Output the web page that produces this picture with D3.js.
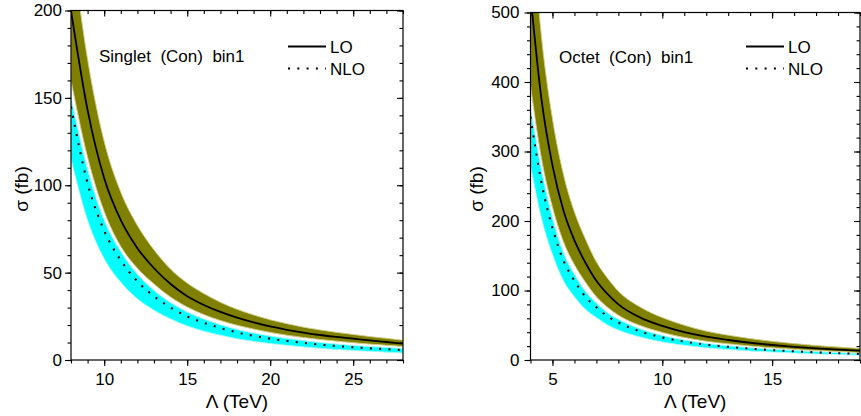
<!DOCTYPE html>
<html>
<head>
<meta charset="utf-8">
<script src="https://cdn.jsdelivr.net/npm/d3@7"></script>
<style>
  html, body { margin: 0; padding: 0; background: #fff; }
  svg { display: block; font-family: "Liberation Sans", Arial, sans-serif; }
  text { white-space: pre; }
</style>
</head>
<body>
<svg id="chart" width="861" height="416"></svg>
<script>
// ---------------- Data ----------------
// Singlet (Con) bin1
const singletLambda = [8, 9, 10, 11, 12, 13, 14, 15, 16, 17, 18, 19, 20, 21, 22, 23, 24, 25, 26, 27, 28];
const singletLO     = [200, 143, 104, 80, 64, 52.5, 43.5, 36.5, 31.5, 27.5, 24.2, 21.5, 19.2, 17.3, 15.7, 14.3, 13.2, 12.2, 11.2, 10.3, 9.4];
const singletLOUp   = [240, 172, 125, 96, 77, 63, 52, 44, 38, 33, 29, 25.8, 23, 20.8, 18.8, 17.2, 15.8, 14.6, 13.4, 12.4, 11.3];
const singletLOLow  = [160, 116, 85, 65, 52.5, 43.5, 36, 30.3, 26, 22.6, 19.9, 17.7, 15.8, 14.2, 12.9, 11.7, 10.8, 9.9, 9.1, 8.4, 7.7];
const singletNLO    = [145, 101, 74, 57, 45, 36.5, 30, 25, 21.3, 18.3, 15.8, 13.8, 12.2, 10.9, 9.8, 8.8, 8.0, 7.3, 6.7, 6.2, 5.7];
const singletNLOUp  = [150, 109, 80, 62, 49, 39.8, 32.8, 27.4, 23.4, 20.2, 17.5, 15.4, 13.7, 12.3, 11.1, 10.0, 9.1, 8.3, 7.7, 7.1, 6.6];
const singletNLOLow = [115, 80, 58, 44.5, 35, 28.5, 23.5, 19.5, 16.5, 14.2, 12.2, 10.7, 9.4, 8.4, 7.5, 6.7, 6.0, 5.5, 5.0, 4.5, 4.0];

// Octet (Con) bin1
const octetLambda = [4, 4.5, 5, 5.5, 6, 6.5, 7, 7.5, 8, 9, 10, 11, 12, 13, 14, 15, 16, 17, 18, 19];
const octetLO     = [525, 375, 280, 215, 172, 140, 114, 95, 80, 61, 49, 40, 33.5, 28.8, 24.8, 21.6, 19, 16.8, 15, 13.4];
const octetLOUp   = [650, 465, 347, 267, 213, 174, 141, 118, 99, 76, 61, 50, 41.5, 35.7, 30.8, 26.8, 23.6, 20.8, 18.6, 16.6];
const octetLOLow  = [395, 290, 220, 170, 137, 112, 91, 76, 64.5, 49.5, 39.7, 32.4, 27.1, 23.3, 20.1, 17.5, 15.4, 13.6, 12.2, 10.9];
const octetNLO    = [350, 255, 190, 143, 114, 91, 76, 63, 54, 41, 32.5, 26.5, 22, 19, 16.3, 14.2, 12.5, 11, 9.8, 8.8];
const octetNLOUp  = [362, 273, 204, 154, 123, 98.5, 82, 68, 58.5, 44.5, 35.2, 28.7, 23.8, 20.5, 17.6, 15.4, 13.5, 11.9, 10.6, 9.5];
const octetNLOLow = [280, 204, 152, 114, 91, 73, 61, 50.5, 43, 33, 26, 21.2, 17.6, 15.2, 13, 11.4, 10, 8.8, 7.8, 7.0];

// Axis ticks
const singletXMajor = [10, 15, 20, 25];
const singletXMinor = d3.range(8, 28.01, 1);
const singletYMajor = [0, 50, 100, 150, 200];
const singletYMinor = d3.range(0, 200.01, 10);
const octetXMajor = [5, 10, 15];
const octetXMinor = d3.range(4, 19.01, 1);
const octetYMajor = [0, 100, 200, 300, 400, 500];
const octetYMinor = d3.range(0, 500.01, 20);

const legendLabels = ["LO", "NLO"];
const xTitle = "Λ (TeV)";
const yTitle = "σ (fb)";

// ---------------- Drawing ----------------
const svg = d3.select("#chart");
const FONT = 17;
const OLIVE = "#808000", OLIVE_EDGE = "#d2cc8a";
const CYAN = "#00ffff", CYAN_EDGE = "#aef7f7";

const panels = [
  {
    id: "s", label: "Singlet  (Con)  bin1",
    xDomain: [8, 28], xRange: [71, 403], yDomain: [0, 200], yRange: [360, 10.5],
    lam: singletLambda, lo: singletLO, loUp: singletLOUp, loLow: singletLOLow,
    nlo: singletNLO, nloUp: singletNLOUp, nloLow: singletNLOLow,
    xMajor: singletXMajor, xMinor: singletXMinor, yMajor: singletYMajor, yMinor: singletYMinor,
    yPad: 3, labelPos: [99, 62], legendX: 288, yTitleX: 22
  },
  {
    id: "o", label: "Octet  (Con)  bin1",
    xDomain: [4, 19], xRange: [530.5, 860], yDomain: [0, 500], yRange: [360, 12.5],
    lam: octetLambda, lo: octetLO, loUp: octetLOUp, loLow: octetLOLow,
    nlo: octetNLO, nloUp: octetNLOUp, nloLow: octetNLOLow,
    xMajor: octetXMajor, xMinor: octetXMinor, yMajor: octetYMajor, yMinor: octetYMinor,
    yPad: 5, labelPos: [559, 63], legendX: 746, yTitleX: 477
  }
];

panels.forEach(p => {
  const x = d3.scaleLinear().domain(p.xDomain).range(p.xRange);
  const y = d3.scaleLinear().domain(p.yDomain).range(p.yRange);
  const [x0, x1] = p.xRange;
  const [yb, yt] = p.yRange;

  const clipId = "clip-" + p.id;
  svg.append("clipPath").attr("id", clipId)
    .append("rect").attr("x", x0).attr("y", yt).attr("width", x1 - x0).attr("height", yb - yt);

  const g = svg.append("g").attr("clip-path", `url(#${clipId})`);
  const idx = d3.range(p.lam.length);

  const area = (lowArr, upArr) => d3.area()
    .x(i => x(p.lam[i])).y0(i => y(lowArr[i])).y1(i => y(upArr[i]))
    .curve(d3.curveMonotoneX)(idx);
  const line = arr => d3.line()
    .x(i => x(p.lam[i])).y(i => y(arr[i]))
    .curve(d3.curveMonotoneX)(idx);

  // NLO band
  g.append("path").attr("d", area(p.nloLow, p.nloUp))
    .attr("fill", CYAN).attr("stroke", CYAN_EDGE).attr("stroke-width", 0.9);
  // LO band
  g.append("path").attr("d", area(p.loLow, p.loUp))
    .attr("fill", OLIVE).attr("stroke", OLIVE_EDGE).attr("stroke-width", 0.9);
  // LO central
  g.append("path").attr("d", line(p.lo))
    .attr("fill", "none").attr("stroke", "#000").attr("stroke-width", 1.8);
  // NLO central (dotted)
  g.append("path").attr("d", line(p.nlo))
    .attr("fill", "none").attr("stroke", "#000").attr("stroke-width", 2.1)
    .attr("stroke-dasharray", "2,7.3");

  // Axes
  const axG = svg.append("g");
  const styleAxis = sel => {
    sel.select(".domain").remove();
    sel.selectAll(".tick line").attr("stroke", "#000").attr("stroke-width", 1.1);
    sel.selectAll(".tick text").attr("font-size", FONT).attr("fill", "#000")
      .attr("font-family", "'Liberation Sans', Arial, sans-serif");
  };
  // bottom (outward)
  axG.append("g").attr("transform", `translate(0,${yb})`)
    .call(d3.axisBottom(x).tickValues(p.xMinor).tickSize(3.5).tickFormat("")).call(styleAxis);
  axG.append("g").attr("transform", `translate(0,${yb})`)
    .call(d3.axisBottom(x).tickValues(p.xMajor).tickSize(6).tickPadding(7).tickFormat(d3.format("d")))
    .call(styleAxis);
  // top (inward)
  axG.append("g").attr("transform", `translate(0,${yt})`)
    .call(d3.axisBottom(x).tickValues(p.xMinor).tickSize(3.5).tickFormat("")).call(styleAxis);
  axG.append("g").attr("transform", `translate(0,${yt})`)
    .call(d3.axisBottom(x).tickValues(p.xMajor).tickSize(6).tickFormat("")).call(styleAxis);
  // left (outward)
  axG.append("g").attr("transform", `translate(${x0},0)`)
    .call(d3.axisLeft(y).tickValues(p.yMinor).tickSize(3.5).tickFormat("")).call(styleAxis);
  axG.append("g").attr("transform", `translate(${x0},0)`)
    .call(d3.axisLeft(y).tickValues(p.yMajor).tickSize(6).tickPadding(p.yPad).tickFormat(d3.format("d")))
    .call(styleAxis);
  // right (inward)
  axG.append("g").attr("transform", `translate(${x1},0)`)
    .call(d3.axisLeft(y).tickValues(p.yMinor).tickSize(3.5).tickFormat("")).call(styleAxis);
  axG.append("g").attr("transform", `translate(${x1},0)`)
    .call(d3.axisLeft(y).tickValues(p.yMajor).tickSize(6).tickFormat("")).call(styleAxis);

  // frame
  svg.append("rect").attr("x", x0).attr("y", yt).attr("width", x1 - x0).attr("height", yb - yt)
    .attr("fill", "none").attr("stroke", "#000").attr("stroke-width", 1.2);

  // panel label
  svg.append("text").attr("x", p.labelPos[0]).attr("y", p.labelPos[1])
    .attr("font-size", FONT).text(p.label);

  // legend
  const lx = p.legendX;
  svg.append("line").attr("x1", lx).attr("x2", lx + 38).attr("y1", 46.5).attr("y2", 46.5)
    .attr("stroke", "#000").attr("stroke-width", 1.8);
  svg.append("text").attr("x", lx + 42).attr("y", 52.5).attr("font-size", FONT).text(legendLabels[0]);
  svg.append("line").attr("x1", lx).attr("x2", lx + 38).attr("y1", 68.5).attr("y2", 68.5)
    .attr("stroke", "#000").attr("stroke-width", 2.1).attr("stroke-dasharray", "2,7.3");
  svg.append("text").attr("x", lx + 42).attr("y", 74.5).attr("font-size", FONT).text(legendLabels[1]);

  // axis titles
  svg.append("text").attr("x", (x0 + x1) / 2).attr("y", 408).attr("text-anchor", "middle")
    .attr("font-size", 19).text(xTitle);
  svg.append("text").attr("transform", `translate(${p.yTitleX + 6},189) rotate(-90)`)
    .attr("text-anchor", "middle").attr("font-size", 19).text(yTitle);
});
</script>
</body>
</html>
